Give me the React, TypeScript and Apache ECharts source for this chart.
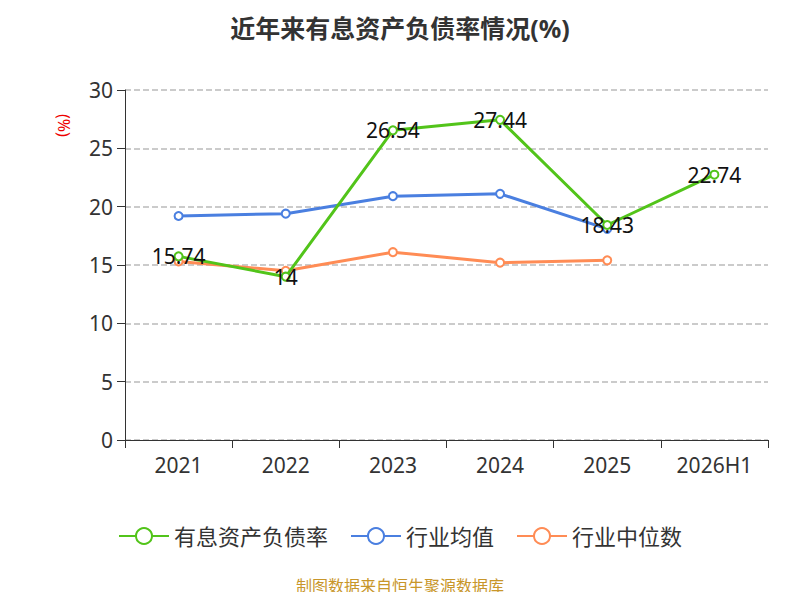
import { useEffect, useRef } from 'react';
import * as echarts from 'echarts';

const categories = ['2021', '2022', '2023', '2024', '2025', '2026H1'];
const debtRatio = [15.74, 14, 26.54, 27.44, 18.43, 22.74];
const industryAvg = [19.2, 19.4, 20.9, 21.1, 18.1, null];
const industryMedian = [15.3, 14.5, 16.1, 15.2, 15.4, null];

export default function App() {
  const chartRef = useRef<HTMLDivElement>(null);

  useEffect(() => {
    if (!chartRef.current) return;
    const chart = echarts.init(chartRef.current, undefined, { renderer: 'svg' });
    const font = '"Noto Sans", "Noto Sans CJK SC", sans-serif';
    const line = (name: string, data: (number | null)[], color: string, label: boolean) => ({
      name,
      type: 'line',
      data,
      symbol: 'emptyCircle',
      symbolSize: 8,
      itemStyle: { color, borderColor: color, borderWidth: 2 },
      lineStyle: { color, width: 3 },
      label: label ? { show: true, position: 'inside', color: '#111', fontSize: 21, fontFamily: font, formatter: (p: any) => String(p.value) } : { show: false },
      z: label ? 3 : 2,
    });

    chart.setOption({
      animation: false,
      textStyle: { fontFamily: font },
      title: {
        text: '近年来有息资产负债率情况(%)',
        left: 'center',
        top: 2,
        textStyle: { fontSize: 25, fontWeight: 'bold', color: '#333', fontFamily: font },
      },
      graphic: [
        { type: 'text', left: 'center', top: 570, style: { text: '制图数据来自恒生聚源数据库', fill: '#c8962a', fontSize: 16, fontFamily: font } },
        { type: 'text', x: 64, y: 106, rotation: -Math.PI / 2, style: { text: '(%)', fill: '#e00', fontSize: 16, fontFamily: font } },
      ],
      legend: {
        top: 512,
        itemWidth: 50,
        itemHeight: 20,
        itemGap: 22,
        textStyle: { fontSize: 22, color: '#333', fontFamily: font },
        data: ['有息资产负债率', '行业均值', '行业中位数'],
      },
      grid: { left: 117, right: 24, top: 82, bottom: 152 },
      xAxis: {
        type: 'category',
        data: categories,
        axisLine: { lineStyle: { color: '#333' } },
        axisTick: { show: true, length: 8, lineStyle: { color: '#333' } },
        axisLabel: { fontSize: 21, color: '#333', margin: 14 },
      },
      yAxis: {
        type: 'value',
        min: 0,
        max: 30,
        interval: 5,
        axisLine: { show: true, lineStyle: { color: '#333' } },
        axisTick: { show: true, length: 8, lineStyle: { color: '#333' } },
        axisLabel: { fontSize: 21, color: '#333', margin: 12 },
        splitLine: { lineStyle: { type: 'dashed', color: '#bbb', width: 1.5 } },
      },
      series: [
        line('有息资产负债率', debtRatio, '#52c41a', true),
        line('行业均值', industryAvg, '#4a7fe0', false),
        line('行业中位数', industryMedian, '#ff8c55', false),
      ],
    });

    return () => chart.dispose();
  }, []);

  return <div ref={chartRef} style={{ width: '784px', height: '584px' }}></div>;
}
